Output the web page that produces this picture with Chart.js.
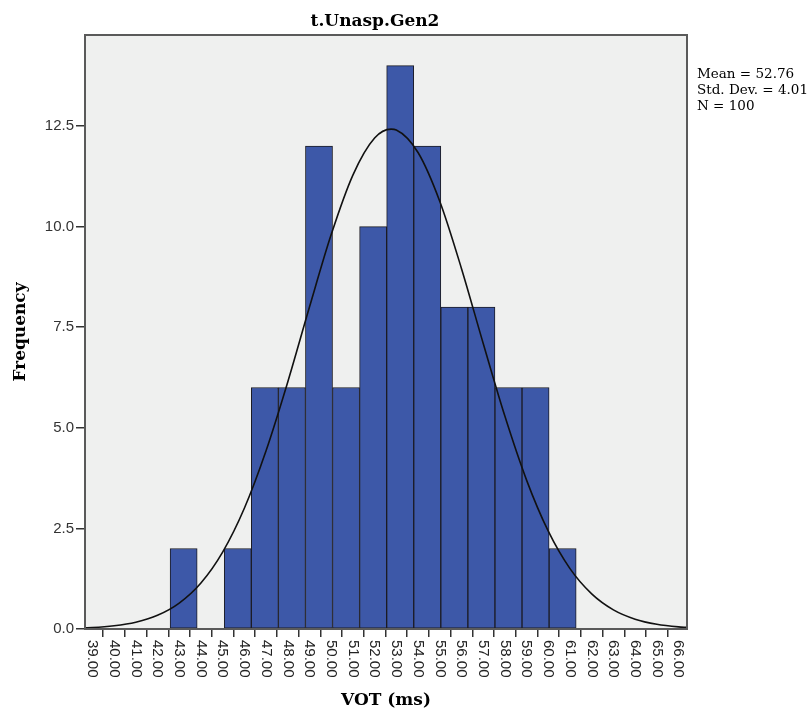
<!DOCTYPE html>
<html><head><meta charset="utf-8">
<script src="https://cdn.jsdelivr.net/npm/chart.js@4/dist/chart.umd.min.js"></script>
<style>html,body{margin:0;padding:0;background:#fff;} canvas{display:block;}</style>
</head><body>
<canvas id="c" width="812" height="720"></canvas>
<script>
const chartTitle = 't.Unasp.Gen2';
const xAxisTitle = 'VOT (ms)';
const yAxisTitle = 'Frequency';
const statsLines = ['Mean = 52.76', 'Std. Dev. = 4.01', 'N = 100'];

// histogram bins (edges) and counts
const binEdges = [42.580, 43.827, 45.074, 46.321, 47.568, 48.815, 50.062, 51.309,
                  52.556, 53.803, 55.050, 56.297, 57.544, 58.791, 60.038, 61.285];
const binCounts = [2, 0, 2, 6, 6, 12, 6, 10, 14, 12, 8, 8, 6, 6, 2];

// normal curve, values
const curveX = [38.66, 39, 40, 41, 42, 43, 44, 45, 46, 47, 48, 49, 50, 51, 52, 52.76,
                53, 54, 55, 56, 57, 58, 59, 60, 61, 62, 63, 64, 65, 66, 66.39];
const curveY = [0.03, 0.035, 0.079, 0.169, 0.339, 0.643, 1.142, 1.91, 3.00, 4.43, 6.14, 8.00, 9.80, 11.28, 12.20, 12.42,
                12.40, 11.84, 10.63, 8.96, 7.10, 5.29, 3.70, 2.43, 1.50, 0.873, 0.476, 0.245, 0.118, 0.053, 0.04];

const xTickValues = [39, 40, 41, 42, 43, 44, 45, 46, 47, 48, 49, 50, 51, 52, 53,
                     54, 55, 56, 57, 58, 59, 60, 61, 62, 63, 64, 65, 66];
const yTickValues = [0, 2.5, 5, 7.5, 10, 12.5];
const xRange = [38.66, 66.39];
const yRange = [0, 14.76];

const barData = binCounts.map((c, i) => ({x: (binEdges[i] + binEdges[i + 1]) / 2, y: c}));
const curveData = curveX.map((x, i) => ({x: x, y: curveY[i]}));

const decorPlugin = {
  id: 'decor',
  beforeDraw(chart) {
    const {ctx, chartArea: a} = chart;
    ctx.save();
    ctx.fillStyle = '#eff0ef';
    ctx.fillRect(a.left, a.top, a.right - a.left, a.bottom - a.top);
    ctx.restore();
  },
  afterDraw(chart) {
    const {ctx, chartArea: a} = chart;
    ctx.save();
    ctx.strokeStyle = '#5a5a5a';
    ctx.lineWidth = 2;
    ctx.strokeRect(a.left, a.top, a.right - a.left, a.bottom - a.top);
    // x tick labels rotated clockwise
    const xs = chart.scales.x;
    ctx.fillStyle = '#222';
    ctx.font = '15px "Liberation Sans", Arial, sans-serif';
    ctx.textAlign = 'left';
    ctx.textBaseline = 'middle';
    xTickValues.forEach(v => {
      const px = xs.getPixelForValue(v);
      ctx.save();
      ctx.translate(px, a.bottom + 11);
      ctx.rotate(Math.PI / 2);
      ctx.fillText(v.toFixed(2), 0, 0);
      ctx.restore();
    });
    // title
    ctx.fillStyle = '#000';
    ctx.font = 'bold 17px "DejaVu Serif", serif';
    ctx.textAlign = 'center';
    ctx.textBaseline = 'alphabetic';
    ctx.fillText(chartTitle, 375, 26);
    // stats
    ctx.font = '13.5px "DejaVu Serif", serif';
    ctx.textAlign = 'left';
    statsLines.forEach((s, i) => ctx.fillText(s, 697, 78 + i * 16));
    ctx.restore();
  }
};

new Chart(document.getElementById('c'), {
  type: 'bar',
  data: {
    datasets: [
      {
        type: 'line',
        data: curveData,
        borderColor: '#111',
        borderWidth: 1.6,
        pointRadius: 0,
        fill: false,
        cubicInterpolationMode: 'monotone',
        order: 0
      },
      {
        type: 'bar',
        data: barData,
        backgroundColor: '#3d58a8',
        borderColor: '#1c1c24',
        borderWidth: 1,
        borderSkipped: false,
        barThickness: 'flex',
        barPercentage: 1,
        categoryPercentage: 1,
        order: 1
      }
    ]
  },
  options: {
    responsive: false,
    animation: false,
    devicePixelRatio: 1,
    layout: {padding: {left: 0, top: 35, right: 125, bottom: 0}},
    plugins: {legend: {display: false}, tooltip: {enabled: false}, title: {display: false}},
    scales: {
      x: {
        type: 'linear',
        min: xRange[0],
        max: xRange[1],
        offset: false,
        afterBuildTicks: s => { s.ticks = xTickValues.map(v => ({value: v})); },
        afterFit: s => { s.height = 91; },
        ticks: {display: false},
        grid: {display: true, drawOnChartArea: false, drawTicks: true, tickLength: 8, color: '#333', lineWidth: 1.5},
        border: {display: true, color: '#555', width: 2},
        title: {display: true, text: xAxisTitle, color: '#000',
                font: {family: '"DejaVu Serif", serif', size: 17, weight: 'bold'},
                padding: {top: 0, bottom: 9}}
      },
      y: {
        type: 'linear',
        min: yRange[0],
        max: yRange[1],
        afterBuildTicks: s => { s.ticks = yTickValues.map(v => ({value: v})); },
        afterFit: s => { s.width = 85; },
        ticks: {display: true, color: '#333', padding: 2,
                font: {family: '"Liberation Sans", Arial, sans-serif', size: 15},
                callback: v => Number(v).toFixed(1)},
        grid: {display: true, drawOnChartArea: false, drawTicks: true, tickLength: 9, color: '#333', lineWidth: 1.5},
        border: {display: true, color: '#555', width: 2},
        title: {display: true, text: yAxisTitle, color: '#000',
                font: {family: '"DejaVu Serif", serif', size: 17, weight: 'bold'},
                padding: {top: 10, bottom: 0}}
      }
    }
  },
  plugins: [decorPlugin]
});
</script>
</body></html>
